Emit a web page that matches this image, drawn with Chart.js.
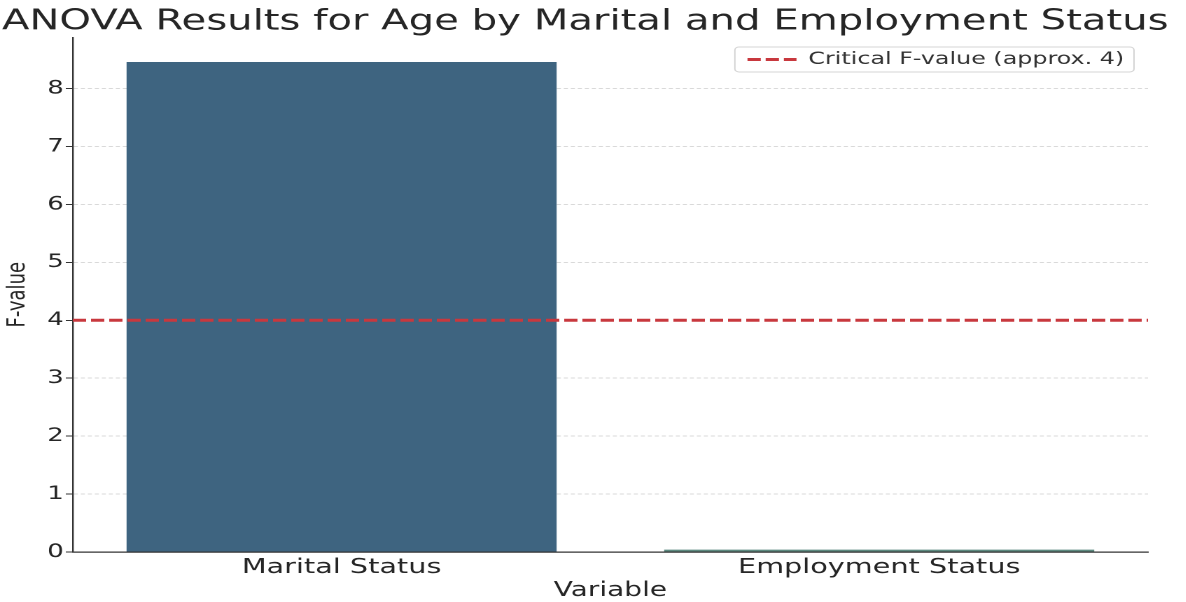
<!DOCTYPE html>
<html>
<head>
<meta charset="utf-8">
<script src="https://cdn.jsdelivr.net/npm/chart.js@4.4.1/dist/chart.umd.min.js"></script>
<style>
html, body { margin: 0; padding: 0; background: #ffffff; overflow: hidden; }
#wrap { width: 1186px; height: 602px; overflow: hidden; }
#c { display: block; width: 847px; height: 602px; transform: scaleX(1.4); transform-origin: 0 0; }
</style>
</head>
<body>
<div id="wrap"><canvas id="c" width="847" height="602"></canvas></div>
<script>
// ---- data ----
const categories = ['Marital Status', 'Employment Status'];
const fValues = [8.46, 0.04];
const barColors = ['#3e6480', '#5d8a80'];
const criticalF = 4;
const criticalLabel = 'Critical F-value (approx. 4)';
const yTickValues = [0, 1, 2, 3, 4, 5, 6, 7, 8];
const criticalSpan = [0, 1];

const FONT = "'DejaVu Sans', 'Liberation Sans', sans-serif";
const TEXT = '#262626';
const yMax = Math.max(...fValues) * 1.05;

// place the legend in the upper-right corner of the plot area, with a framed box
const legendPlacement = {
  id: 'legendPlacement',
  afterLayout(chart) {
    const lg = chart.legend;
    const ca = chart.chartArea;
    if (!lg) return;
    const w = lg.width;
    lg.right = ca.right - 7;
    lg.left = lg.right - w;
    lg.top = ca.top + 3.5;
    lg.bottom = lg.top + lg.height;
  },
  afterDraw(chart) {
    const lg = chart.legend;
    if (!lg || !lg.legendHitBoxes || !lg.legendHitBoxes.length) return;
    const hb = lg.legendHitBoxes[0];
    const ctx = chart.ctx;
    ctx.save();
    ctx.strokeStyle = '#d4d4d4';
    ctx.lineWidth = 1;
    ctx.beginPath();
    ctx.roundRect(hb.left - 9, hb.top - 4, hb.width + 16, hb.height + 8, 3);
    ctx.stroke();
    ctx.restore();
  }
};

const chart = new Chart(document.getElementById('c'), {
  type: 'bar',
  data: {
    labels: categories,
    datasets: [
      {
        type: 'bar',
        label: 'F-value',
        data: fValues,
        backgroundColor: barColors,
        borderWidth: 0,
        grouped: false,
        barPercentage: 0.8,
        categoryPercentage: 1.0,
        order: 2
      },
      {
        type: 'line',
        label: criticalLabel,
        xAxisID: 'x2',
        data: criticalSpan.map(x => ({ x: x, y: criticalF })),
        borderColor: '#c8383e',
        backgroundColor: '#c8383e',
        borderWidth: 3,
        borderDash: [9.5, 3.5],
        pointRadius: 0,
        pointStyle: 'line',
        fill: false,
        order: 1
      }
    ]
  },
  options: {
    responsive: false,
    animation: false,
    devicePixelRatio: 2,
    layout: { padding: { left: 0, right: 11, top: 0, bottom: 0 } },
    plugins: {
      title: {
        display: true,
        text: 'ANOVA Results for Age by Marital and Employment Status',
        color: TEXT,
        font: { family: FONT, size: 28.7, weight: 'normal' },
        padding: { top: 5, bottom: -2 }
      },
      legend: {
        position: 'chartArea',
        align: 'start',
        labels: {
          usePointStyle: true,
          pointStyleWidth: 35,
          boxWidth: 35,
          color: '#333333',
          padding: 10,
          font: { family: FONT, size: 17 },
          generateLabels: (ch) => {
            const items = Chart.defaults.plugins.legend.labels.generateLabels(ch);
            return items.filter(it => it.datasetIndex === 1).map(it => {
              const ds = ch.data.datasets[1];
              return Object.assign(it, {
                pointStyle: 'line',
                lineDash: ds.borderDash,
                lineWidth: ds.borderWidth,
                strokeStyle: ds.borderColor
              });
            });
          }
        }
      },
      tooltip: { enabled: false }
    },
    scales: {
      x: {
        type: 'category',
        offset: true,
        grid: { display: false, drawTicks: false },
        border: { display: true, color: '#333333', width: 1.2 },
        ticks: { color: TEXT, padding: 3.5, font: { family: FONT, size: 20.5 } },
        title: {
          display: true, text: 'Variable', color: TEXT,
          font: { family: FONT, size: 20 }, padding: { top: 0, bottom: -1 }
        },
        afterFit: (s) => { s.height = 50; }
      },
      x2: { type: 'linear', min: 0, max: 1, offset: false, display: false },
      y: {
        type: 'linear',
        min: 0,
        max: yMax,
        z: 1,
        afterBuildTicks: (s) => { s.ticks = yTickValues.map(v => ({ value: v })); },
        grid: {
          color: (c) => (c.tick && (c.tick.value === criticalF || c.tick.value === 0)) ? 'rgba(0,0,0,0)' : 'rgba(0,0,0,0.15)',
          lineWidth: 1,
          drawTicks: true,
          tickLength: 5,
          tickColor: '#333333',
          tickBorderDash: []
        },
        border: { display: true, color: '#333333', width: 1.2, dash: [3, 2] },
        ticks: { color: TEXT, padding: 1.5, font: { family: FONT, size: 18.5 } },
        title: {
          display: true, text: 'F-value', color: TEXT,
          font: { family: FONT, size: 18 }, padding: { top: 2, bottom: 0 }
        },
        afterFit: (s) => { s.width = 52; }
      },
      yR: {
        type: 'linear',
        position: 'right',
        display: true,
        grid: { display: false, drawTicks: false },
        border: { display: false },
        ticks: { display: false },
        afterFit: (s) => { s.width = 16; }
      }
    }
  },
  plugins: [legendPlacement]
});
</script>
</body>
</html>
